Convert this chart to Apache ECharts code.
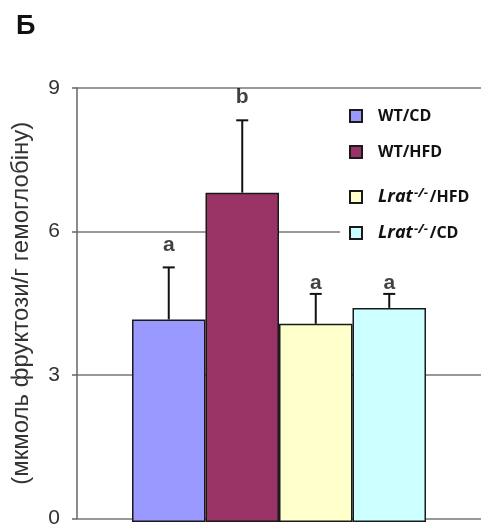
<!DOCTYPE html>
<html>
<head>
<meta charset="utf-8">
<script src="https://cdn.jsdelivr.net/npm/echarts@6/dist/echarts.min.js"></script>
<style>
  html, body { margin: 0; padding: 0; background: #fff; }
  #chart { width: 481px; height: 529px; }
</style>
</head>
<body>
<div id="chart"></div>
<script>
// groups, shown as one bar each
var groups = ['WT/CD', 'WT/HFD', 'Lrat-/-/HFD', 'Lrat-/-/CD'];
var colors = ['#9999ff', '#993366', '#ffffcc', '#ccffff'];
// mean values and upward error
var means = [4.2, 6.83, 4.11, 4.44];
var errors = [1.08, 1.5, 0.62, 0.29];
// significance letters and where they sit (in axis units)
var letters = ['a', 'b', 'a', 'a'];
var letterY = [5.75, 8.8, 4.95, 4.95];
var yTicks = [0, 3, 6, 9];
var legendTops = [104, 140, 183, 219];

var chart = echarts.init(document.getElementById('chart'));

var barSeries = groups.map(function (g, i) {
  var d = groups.map(function (x, j) { return j === i ? means[i] : '-'; });
  return {
    name: g,
    type: 'bar',
    xAxisIndex: 1,
    yAxisIndex: 1,
    stack: 'all',
    barWidth: '100%',
    data: d,
    itemStyle: { color: colors[i], borderColor: '#1a1a1a', borderWidth: 1.5 },
    z: 3
  };
});

var errSeries = {
  type: 'custom',
  xAxisIndex: 1,
  yAxisIndex: 1,
  z: 4,
  data: means.map(function (m, i) { return [i, m, m + errors[i]]; }),
  renderItem: function (params, api) {
    var p0 = api.coord([api.value(0), api.value(1)]);
    var p1 = api.coord([api.value(0), api.value(2)]);
    var st = { stroke: '#111', lineWidth: 2 };
    return {
      type: 'group',
      children: [
        { type: 'line', shape: { x1: p0[0], y1: p0[1], x2: p1[0], y2: p1[1] }, style: st },
        { type: 'line', shape: { x1: p1[0] - 6, y1: p1[1], x2: p1[0] + 6, y2: p1[1] }, style: st }
      ]
    };
  }
};

var letterSeries = {
  type: 'scatter',
  xAxisIndex: 1,
  yAxisIndex: 1,
  symbolSize: 0,
  z: 5,
  data: letterY.map(function (y, i) { return [i, y]; }),
  label: {
    show: true,
    position: 'inside',
    formatter: function (p) { return letters[p.dataIndex]; },
    fontFamily: 'Arial, "Liberation Sans", sans-serif',
    fontWeight: 'bold',
    fontSize: 21,
    color: '#111'
  }
};

var legendText = {
  fontFamily: '"Open Sans", sans-serif',
  fontSize: 16,
  fontWeight: 'bold',
  color: '#111',
  padding: [0, 0, 0, 11],
  rich: {
    n: { fontFamily: '"Open Sans", sans-serif', fontSize: 16, fontWeight: 'bold', color: '#111' },
    i: { fontFamily: '"Open Sans", sans-serif', fontSize: 18, fontWeight: 'bold', fontStyle: 'italic', color: '#111' },
    s: { fontFamily: '"Open Sans", sans-serif', fontSize: 13, fontWeight: 'bold', fontStyle: 'italic', color: '#111', verticalAlign: 'top', lineHeight: 20, padding: [0, 2, 0, 1] }
  }
};

var legends = groups.map(function (g, i) {
  return {
    data: [g],
    orient: 'vertical',
    left: 340,
    top: legendTops[i],
    itemWidth: 12,
    itemHeight: 12,
    icon: 'rect',
    backgroundColor: '#fff',
    padding: [4, 60, 4, 9],
    selectedMode: false,
    textStyle: legendText,
    formatter: function (name) {
      if (name.indexOf('Lrat') === 0) {
        return '{i|Lrat}{s|-/-}{n|' + name.slice(7) + '}';
      }
      return '{n|' + name + '}';
    }
  };
});

chart.setOption({
  animation: false,
  backgroundColor: '#fff',
  graphic: [{
    type: 'text',
    left: 16,
    top: 13,
    style: { text: 'Б', font: 'bold 27px Arial, "Liberation Sans", sans-serif', fill: '#111' }
  }],
  legend: legends,
  grid: [
    { left: 77, right: 0, top: 88, bottom: 7 },
    { left: 132, right: 55, top: 88, bottom: 7 }
  ],
  xAxis: [
    { type: 'value', gridIndex: 0, show: false, min: 0, max: 1 },
    { type: 'category', gridIndex: 1, show: false, data: groups, boundaryGap: true }
  ],
  yAxis: [
    {
      type: 'value', gridIndex: 0, min: 0, max: 9, interval: 3,
      name: '(мкмоль фруктози/г гемоглобіну)',
      nameLocation: 'middle',
      nameGap: 44,
      nameRotate: 90,
      nameTextStyle: {
        fontFamily: 'Arial, "Liberation Sans", sans-serif',
        fontSize: 24,
        color: '#333'
      },
      axisLine: { show: true, lineStyle: { color: '#666', width: 1.5 } },
      axisTick: { show: true, length: 5, lineStyle: { color: '#666', width: 1.5 } },
      axisLabel: {
        margin: 17,
        fontFamily: 'Arial, "Liberation Sans", sans-serif',
        fontSize: 21,
        color: '#333',
        formatter: function (v) { return yTicks.indexOf(v) >= 0 ? String(v) : ''; }
      },
      splitLine: { show: true, lineStyle: { color: '#777', width: 1.5 } }
    },
    { type: 'value', gridIndex: 1, min: 0, max: 9, show: false }
  ],
  series: barSeries.concat([errSeries, letterSeries])
});
</script>
</body>
</html>
